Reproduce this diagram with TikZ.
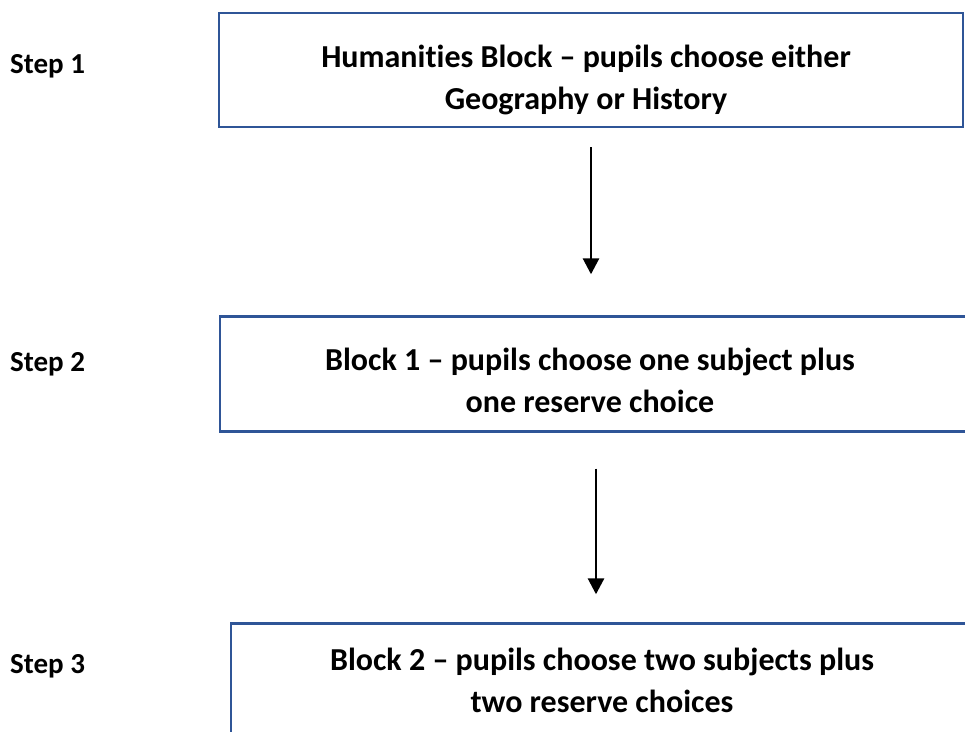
\documentclass[tikz,border=0pt]{standalone}
\usepackage{fontspec}
\setmainfont{Carlito}[Ligatures=NoCommon]
\usetikzlibrary{arrows.meta}
\definecolor{boxblue}{RGB}{47,85,151}

\begin{document}
\begin{tikzpicture}[x=1pt,y=-1pt,>={Triangle[length=16pt,width=16pt]},
  block node/.style={rectangle,draw=boxblue,line width=2.4pt,inner sep=0pt},
  text node/.style={align=center,inner sep=0pt,anchor=base,font=\fontsize{32}{41.5}\selectfont\bfseries},
  step node/.style={anchor=base west,inner sep=0pt,font=\fontsize{29}{34}\selectfont\bfseries}]

  \useasboundingbox (0,0) rectangle (965,731);
  \clip (0,0) rectangle (965,731);

  \node[block node,minimum width=744pt,minimum height=114pt] (b1) at (591,70) {};
  \node[block node,minimum width=752pt,minimum height=115pt] (b2) at (596,374) {};
  \node[block node,minimum width=742pt,minimum height=115pt] (b3) at (602,681) {};

  \node[text node] (t1) at (586,109) {Humanities Block – pupils choose either\\Geography or History};
  \node[text node] (t2) at (590,412) {Block 1 – pupils choose one subject plus\\one reserve choice};
  \node[text node] (t3) at (602,712) {Block 2 – pupils choose two subjects plus\\two reserve choices};

  \node[step node] (s1) at (10,73) {Step 1};
  \node[step node] (s2) at (10,371) {Step 2};
  \node[step node] (s3) at (10,673) {Step 3};

  \draw[->,line width=2.8pt,shorten <=19pt,shorten >=41pt] (b1.south) -- (b1.south |- b2.north);
  \draw[->,line width=2.8pt,shorten <=36pt,shorten >=28pt] (b2.south) -- (b2.south |- b3.north);

\end{tikzpicture}
\end{document}
